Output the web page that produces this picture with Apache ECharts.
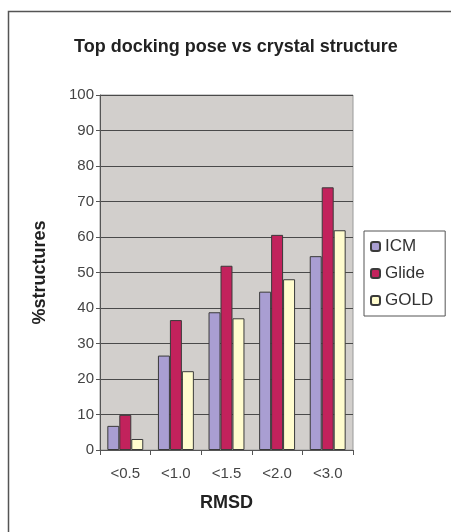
<!DOCTYPE html>
<html>
<head>
<meta charset="utf-8">
<script src="https://cdn.jsdelivr.net/npm/echarts@6/dist/echarts.min.js"></script>
<style>
html,body{margin:0;padding:0;background:#fff;}
#c{width:451px;height:532px;}
</style>
</head>
<body>
<div id="c"></div>
<script>
const categories = ['<0.5', '<1.0', '<1.5', '<2.0', '<3.0'];
const icm = [6.8, 26.6, 38.8, 44.6, 54.6];
const glide = [9.9, 36.6, 51.9, 60.6, 74.0];
const gold = [3.1, 22.2, 37.1, 48.1, 61.9];
const yTicks = { min: 0, max: 100, interval: 10 };

const chart = echarts.init(document.getElementById('c'), null, { renderer: 'canvas' });
const font = 'Arial, "Liberation Sans", sans-serif';
const barBorder = { borderColor: '#3a3a3a', borderWidth: 1 };
chart.setOption({
  animation: false,
  backgroundColor: '#ffffff',
  title: {
    text: 'Top docking pose vs crystal structure',
    left: 231, top: 33, textAlign: 'center',
    textStyle: { fontFamily: font, fontSize: 18, fontWeight: 'bold', color: '#222' }
  },
  graphic: [{
    type: 'polyline',
    shape: { points: [[8.5, 532], [8.5, 11.5], [451, 11.5]] },
    style: { stroke: '#555', lineWidth: 1.5, fill: null }
  }],
  legend: {
    orient: 'vertical', left: 364, top: 231,
    padding: [7, 12, 7, 6],
    itemGap: 10,
    itemWidth: 9, itemHeight: 9,
    borderColor: '#555', borderWidth: 1, backgroundColor: '#fff',
    textStyle: { fontFamily: font, fontSize: 17, color: '#333' },
    data: ['ICM', 'Glide', 'GOLD']
  },
  grid: {
    left: 100, top: 95, width: 253, height: 355,
    show: true, backgroundColor: '#d2cfcc', borderColor: '#9a9a9a', borderWidth: 1
  },
  xAxis: {
    type: 'category', data: categories,
    name: 'RMSD', nameLocation: 'middle', nameGap: 44,
    nameTextStyle: { fontFamily: font, fontSize: 18, fontWeight: 'bold', color: '#222' },
    axisLine: { lineStyle: { color: '#555', width: 1 } },
    axisTick: { show: true, length: 5, lineStyle: { color: '#555' } },
    axisLabel: { fontFamily: font, fontSize: 15, color: '#444', margin: 16 }
  },
  yAxis: {
    type: 'value', min: yTicks.min, max: yTicks.max, interval: yTicks.interval,
    name: '%structures', nameLocation: 'middle', nameGap: 51, nameRotate: 90,
    nameTextStyle: { fontFamily: font, fontSize: 18, fontWeight: 'bold', color: '#222' },
    axisLine: { show: true, lineStyle: { color: '#555', width: 1 } },
    axisTick: { show: true, length: 4, lineStyle: { color: '#555' } },
    axisLabel: { fontFamily: font, fontSize: 15, color: '#444', margin: 6 },
    splitLine: { show: true, lineStyle: { color: '#4a4a4a', width: 1 } }
  },
  series: [
    { name: 'ICM', type: 'bar', data: icm, barGap: '0%', barCategoryGap: '29%',
      itemStyle: Object.assign({ color: '#a99ed2' }, barBorder) },
    { name: 'Glide', type: 'bar', data: glide, barGap: '0%', barCategoryGap: '29%',
      itemStyle: Object.assign({ color: '#c2225c' }, barBorder) },
    { name: 'GOLD', type: 'bar', data: gold, barGap: '0%', barCategoryGap: '29%',
      itemStyle: Object.assign({ color: '#fffcce' }, barBorder) }
  ]
});
</script>
</body>
</html>
